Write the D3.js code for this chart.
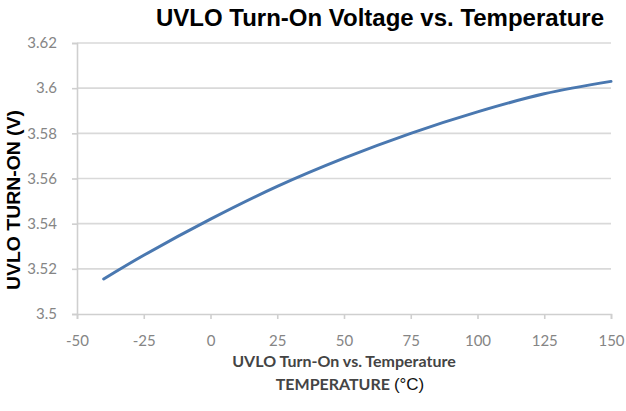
<!DOCTYPE html>
<html>
<head>
<meta charset="utf-8">
<script src="https://cdn.jsdelivr.net/npm/d3@7"></script>
<style>
  body { margin: 0; background: #fff; }
  svg { display: block; }
</style>
</head>
<body>
<div id="chart"></div>
<script>
// temperature (°C) and UVLO turn-on voltage (V)
var temps = [-40, -25, 0, 25, 50, 75, 100, 125, 150];
var volts = [3.5155, 3.526, 3.542, 3.5565, 3.569, 3.580, 3.5895, 3.5975, 3.603];
var x_ticks = [-50, -25, 0, 25, 50, 75, 100, 125, 150];
var y_ticks = [3.5, 3.52, 3.54, 3.56, 3.58, 3.6, 3.62];

var width = 626, height = 411;
var margin = {top: 43, right: 15, bottom: 97, left: 77};

var svg = d3.select("#chart").append("svg")
    .attr("width", width)
    .attr("height", height);

var x_scale = d3.scaleLinear().domain([-50, 150]).range([margin.left, width - margin.right]);
var y_scale = d3.scaleLinear().domain([3.5, 3.62]).range([height - margin.bottom, margin.top]);

var tickFont = "Lato, 'Liberation Sans', Arial, sans-serif";
var axisGrey = "#cfcfcf";

// horizontal gridlines
svg.append("g")
    .selectAll("line")
    .data(y_ticks.filter(function(d) { return d > 3.5; }))
    .enter().append("line")
    .attr("x1", margin.left)
    .attr("x2", width - margin.right)
    .attr("y1", function(d) { return y_scale(d); })
    .attr("y2", function(d) { return y_scale(d); })
    .attr("stroke", "#d9d9d9")
    .attr("stroke-width", 1.6);

// y axis
var yAxis = svg.append("g")
    .attr("transform", `translate(${margin.left},0)`)
    .call(d3.axisLeft(y_scale).tickValues(y_ticks).tickSize(5).tickFormat(function(d) { return String(d); }));
yAxis.select(".domain").attr("stroke", axisGrey).attr("stroke-width", 1.6);
yAxis.selectAll(".tick line").attr("stroke", axisGrey).attr("stroke-width", 1.6);
yAxis.selectAll(".tick text")
    .attr("x", -20)
    .attr("fill", "#858585")
    .attr("font-family", tickFont)
    .attr("font-size", "15px");

// x axis
var xAxis = svg.append("g")
    .attr("transform", `translate(0,${height - margin.bottom})`)
    .call(d3.axisBottom(x_scale).tickValues(x_ticks).tickSize(5).tickFormat(function(d) { return String(d); }));
xAxis.select(".domain").attr("stroke", axisGrey).attr("stroke-width", 1.6);
xAxis.selectAll(".tick line").attr("stroke", axisGrey).attr("stroke-width", 1.6);
xAxis.selectAll(".tick text")
    .attr("y", 21)
    .attr("fill", "#858585")
    .attr("font-family", tickFont)
    .attr("font-size", "15px");

// data line
var line = d3.line()
    .x(function(d, i) { return x_scale(temps[i]); })
    .y(function(d) { return y_scale(d); })
    .curve(d3.curveCatmullRom.alpha(0.5));

svg.append("path")
    .datum(volts)
    .attr("d", line)
    .attr("fill", "none")
    .attr("stroke", "#4a78b0")
    .attr("stroke-width", 3)
    .attr("stroke-linecap", "round");

// title
svg.append("text")
    .attr("x", 604)
    .attr("y", 26)
    .attr("text-anchor", "end")
    .attr("font-family", "'Liberation Sans', Arial, sans-serif")
    .attr("font-weight", "bold")
    .attr("font-size", "24px")
    .attr("fill", "#000")
    .text("UVLO Turn-On Voltage vs. Temperature");

// y axis title
svg.append("text")
    .attr("transform", "translate(20,200) rotate(-90)")
    .attr("text-anchor", "middle")
    .attr("font-family", "'Liberation Sans', Arial, sans-serif")
    .attr("font-weight", "bold")
    .attr("font-size", "17.5px")
    .attr("textLength", 180)
    .attr("lengthAdjust", "spacingAndGlyphs")
    .attr("fill", "#000")
    .text("UVLO TURN-ON (V)");

// x axis titles
svg.append("text")
    .attr("x", 344)
    .attr("y", 367)
    .attr("text-anchor", "middle")
    .attr("font-family", tickFont)
    .attr("font-weight", "bold")
    .attr("font-size", "16px")
    .attr("fill", "#444")
    .text("UVLO Turn-On vs. Temperature");

var t2 = svg.append("text")
    .attr("x", 350)
    .attr("y", 390)
    .attr("text-anchor", "middle")
    .attr("font-size", "16px");
t2.append("tspan")
    .attr("font-family", tickFont)
    .attr("font-weight", "bold")
    .attr("fill", "#444")
    .text("TEMPERATURE ");
t2.append("tspan")
    .attr("font-family", "'Liberation Sans', Arial, sans-serif")
    .attr("font-size", "17px")
    .attr("fill", "#111")
    .text("(°C)");
</script>
</body>
</html>
